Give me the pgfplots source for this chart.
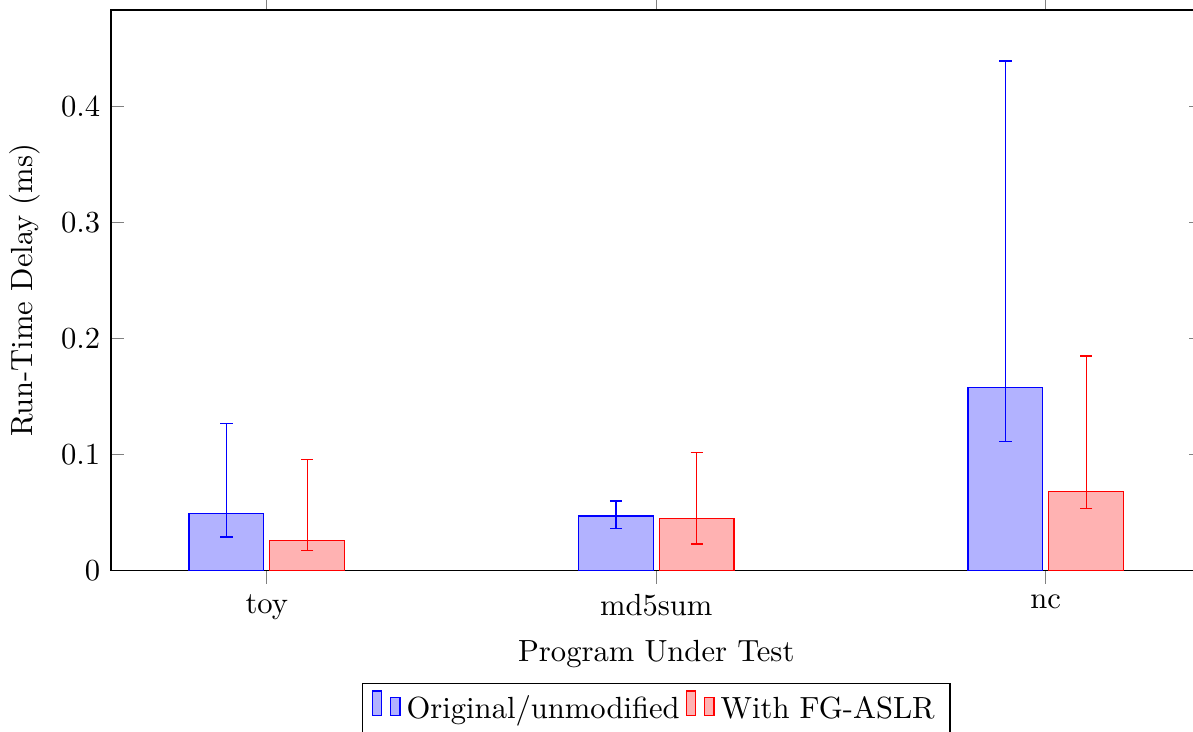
\documentclass[border=0pt]{standalone}
\usepackage{pgfplots}
\pgfplotsset{compat=1.18}
\usepackage{pgfplotstable}

% x: program index, y: mean delay, ep/em: distance to upper/lower bound
\pgfplotstableread{
x y      ep     em
0 0.049  0.0775 0.020
1 0.047  0.013  0.011
2 0.1575 0.2815 0.0465
}\original
\pgfplotstableread{
x y     ep     em
0 0.026 0.0695 0.009
1 0.045 0.057  0.022
2 0.068 0.117  0.0145
}\fgaslr

\begin{document}
\begin{tikzpicture}
\begin{axis}[
  name=ax,
  scale only axis,
  width=356.4pt, height=183.2pt,
  ybar=2pt, bar width=24.4pt,
  xmin=-0.4, xmax=2.4,
  ymin=0, ymax=0.483,
  xtick=data,
  xticklabels={toy, md5sum, nc},
  xtick align=outside,
  ytick={0,0.1,0.2,0.3,0.4},
  xlabel={Program Under Test},
  ylabel={Run-Time Delay (ms)},
  legend style={at={(0.5,-0.2)}, anchor=north, legend columns=-1},
]
\addplot+[draw=blue, fill=blue!30,
  error bars/.cd, y dir=both, y explicit,
  error bar style={blue}]
  table[x=x, y=y, y error plus=ep, y error minus=em] {\original};
\addlegendentry{Original/unmodified}
\addplot+[draw=red, fill=red!30,
  error bars/.cd, y dir=both, y explicit,
  error bar style={red}]
  table[x=x, y=y, y error plus=ep, y error minus=em] {\fgaslr};
\addlegendentry{With FG-ASLR}
\end{axis}
\pgfresetboundingbox
\path[use as bounding box]
  ([xshift=-36.27pt, yshift=-52.7pt]ax.south west)
  rectangle ([xshift=353.6pt, yshift=3.27pt]ax.north west);
\end{tikzpicture}
\end{document}
